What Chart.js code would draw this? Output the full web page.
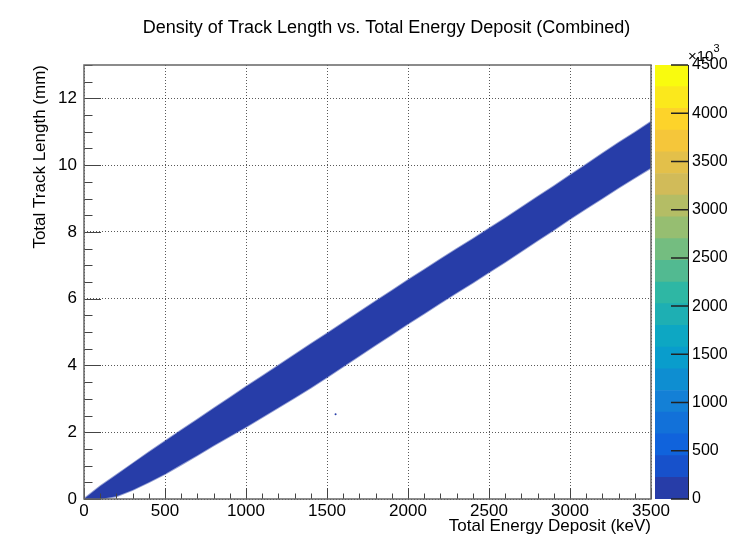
<!DOCTYPE html>
<html><head><meta charset="utf-8">
<script src="https://cdn.jsdelivr.net/npm/chart.js@4/dist/chart.umd.min.js"></script>
<style>
html,body{margin:0;padding:0;background:#fff;}
#wrap{position:relative;width:753px;height:550px;background:#fff;}
canvas{position:absolute;left:0;top:0;}
</style></head><body>
<div id="wrap"><canvas id="main" width="753" height="550"></canvas><canvas id="cbar" width="753" height="550"></canvas></div>
<script>
// ---- data ----
const chartTitle = 'Density of Track Length vs. Total Energy Deposit (Combined)';
const xTitle = 'Total Energy Deposit (keV)';
const yTitle = 'Total Track Length (mm)';
const energyKeV = [0,100,200,300,400,500,600,700,800,900,1000,1100,1200,1300,1400,1500,1600,1700,1800,1900,2000,2100,2200,2300,2400,2500,2600,2700,2800,2900,3000,3100,3200,3300,3400,3500];
const lowerEdge = [0,0,0.08,0.27,0.50,0.75,1.03,1.31,1.60,1.88,2.16,2.45,2.74,3.03,3.33,3.65,3.97,4.29,4.61,4.93,5.25,5.56,5.87,6.18,6.48,6.79,7.10,7.42,7.74,8.06,8.39,8.70,9.01,9.32,9.62,9.92];
const upperEdge = [0,0.38,0.72,1.06,1.40,1.73,2.06,2.38,2.71,3.03,3.36,3.68,4.00,4.32,4.64,4.96,5.28,5.60,5.92,6.24,6.56,6.87,7.18,7.49,7.79,8.10,8.41,8.73,9.05,9.37,9.70,10.02,10.35,10.67,10.98,11.30];
const strayPoints = [{x:1553, y:2.54}];
const xTicks = [0,500,1000,1500,2000,2500,3000,3500];
const yTicks = [0,2,4,6,8,10,12];
const zTicks = [0,500,1000,1500,2000,2500,3000,3500,4000,4500];
const zLevelEdges = [0,225,450,675,900,1125,1350,1575,1800,2025,2250,2475,2700,2925,3150,3375,3600,3825,4050,4275,4500];
const zExponentLabel = ['\u00d710','3'];

// ---- ROOT kBird palette ----
const birdStops=[0,0.125,0.25,0.375,0.5,0.625,0.75,0.875,1];
const birdR=[0.2082,0.0592,0.0780,0.0232,0.1802,0.5301,0.8186,0.9956,0.9764];
const birdG=[0.1664,0.3599,0.5041,0.6419,0.7178,0.7492,0.7328,0.7862,0.9832];
const birdB=[0.5293,0.8684,0.8385,0.7914,0.6425,0.4662,0.3499,0.1968,0.0539];
function bird(t,a){
  let i=0; while(i<birdStops.length-2 && t>birdStops[i+1]) i++;
  const f=(t-birdStops[i])/(birdStops[i+1]-birdStops[i]);
  const c=arr=>Math.round(255*(arr[i]+(arr[i+1]-arr[i])*f));
  return a===undefined?`rgb(${c(birdR)},${c(birdG)},${c(birdB)})`:`rgba(${c(birdR)},${c(birdG)},${c(birdB)},${a})`;
}
const nLev = zLevelEdges.length-1;
const levelT = i => Math.floor((i+0.99)*255/nLev)/254;
const levelColor = (i,a) => bird(levelT(i),a);
const bandColor = levelColor(0);
const edgeColor = levelColor(0,0.5);

const FONT = '"Liberation Sans", Arial, Helvetica, sans-serif';
Chart.defaults.font.family = FONT;
Chart.defaults.color = '#000';

const rootFrame = {
  id:'rootFrame',
  afterDraw(chart){
    const {ctx, chartArea:a, scales:{x,y}} = chart;
    ctx.save();
    ctx.strokeStyle='#444'; ctx.lineWidth=1;
    ctx.beginPath();
    for(let v=0; v<=3500; v+=100){
      const px=Math.round(x.getPixelForValue(v))+0.5;
      const len = (v%500===0)?11:5.5;
      ctx.moveTo(px,a.bottom); ctx.lineTo(px,a.bottom-len);
    }
    for(let v=0; v<=13.001; v+=0.5){
      const py=Math.round(y.getPixelForValue(v))+0.5;
      const len = (Math.abs(v%2)<1e-6)?17:8.5;
      ctx.moveTo(a.left,py); ctx.lineTo(a.left+len,py);
    }
    ctx.stroke();
    ctx.strokeStyle='#666'; ctx.lineWidth=1.5;
    ctx.strokeRect(a.left,a.top,a.right-a.left,a.bottom-a.top);
    ctx.fillStyle='#000';
    ctx.font='18px '+FONT; ctx.textAlign='center'; ctx.textBaseline='middle';
    ctx.fillText(chartTitle, 386.5, 28);
    ctx.restore();
  }
};

new Chart(document.getElementById('main'),{
  type:'line',
  data:{datasets:[
    {label:'lower', data:energyKeV.map((e,i)=>({x:e,y:lowerEdge[i]})), borderColor:edgeColor, borderWidth:1.8, pointRadius:0, fill:false, tension:0},
    {label:'upper', data:energyKeV.map((e,i)=>({x:e,y:upperEdge[i]})), borderColor:edgeColor, borderWidth:1.8, pointRadius:0, fill:'-1', backgroundColor:bandColor, tension:0},
    {type:'scatter', label:'stray', data:strayPoints, pointRadius:1, backgroundColor:bandColor, borderWidth:0}
  ]},
  options:{
    responsive:false, animation:false, devicePixelRatio:1,
    layout:{padding:{left:0, top:65, right:102, bottom:0}},
    plugins:{legend:{display:false}, tooltip:{enabled:false}, title:{display:false}},
    scales:{
      x:{type:'linear', min:0, max:3500, position:'bottom', z:1,
        afterBuildTicks:s=>{s.ticks=xTicks.map(v=>({value:v}));},
        afterFit:s=>{s.height=51;},
        grid:{color:'rgba(0,0,0,0.65)', lineWidth:1, drawTicks:false},
        border:{display:false, dash:[1,2]},
        ticks:{font:{size:17}, padding:2, maxRotation:0, autoSkip:false, color:'#000', callback:v=>String(v)},
        title:{display:true, text:xTitle, align:'end', font:{size:17}, padding:{top:0,bottom:13}, color:'#000'}
      },
      y:{type:'linear', min:0, max:13, position:'left', z:1,
        afterBuildTicks:s=>{s.ticks=yTicks.map(v=>({value:v}));},
        afterFit:s=>{s.width=84;},
        grid:{color:'rgba(0,0,0,0.65)', lineWidth:1, drawTicks:false},
        border:{display:false, dash:[1,2]},
        ticks:{font:{size:17}, padding:7, autoSkip:false, color:'#000', callback:v=>String(v)},
        title:{display:true, text:yTitle, align:'end', font:{size:17, lineHeight:1.2}, padding:{top:30,bottom:0}, color:'#000'}
      }
    }
  },
  plugins:[rootFrame]
});

const cbarDeco = {
  id:'cbarDeco',
  afterDraw(chart){
    const {ctx, chartArea:a, scales:{y}} = chart;
    ctx.save();
    ctx.strokeStyle='#222'; ctx.lineWidth=1.5;
    ctx.beginPath();
    zTicks.forEach(v=>{
      const py=y.getPixelForValue(v);
      ctx.moveTo(a.right-17,py); ctx.lineTo(a.right,py);
    });
    ctx.stroke();
    ctx.fillStyle='#000'; ctx.textAlign='left'; ctx.textBaseline='alphabetic';
    ctx.font='15px '+FONT;
    ctx.fillText(zExponentLabel[0], a.right, 61);
    const w=ctx.measureText(zExponentLabel[0]).width;
    ctx.font='11px '+FONT;
    ctx.fillText(zExponentLabel[1], a.right+w, 52);
    ctx.restore();
  }
};

new Chart(document.getElementById('cbar'),{
  type:'bar',
  data:{labels:['z'], datasets: zLevelEdges.slice(0,-1).map((lo,i)=>({
    data:[zLevelEdges[i+1]-lo], backgroundColor:levelColor(i), borderWidth:0,
    categoryPercentage:1, barPercentage:1, stack:'s'}))},
  options:{
    responsive:false, animation:false, devicePixelRatio:1,
    layout:{padding:{left:655, top:65, right:0, bottom:51}},
    plugins:{legend:{display:false}, tooltip:{enabled:false}, title:{display:false}},
    scales:{
      x:{display:false, stacked:true},
      y:{position:'right', min:0, max:4500, stacked:true,
        afterBuildTicks:s=>{s.ticks=zTicks.map(v=>({value:v}));},
        afterFit:s=>{s.width=65;},
        grid:{display:false, drawTicks:false},
        border:{display:true, color:'#222', width:1},
        ticks:{font:{size:16}, padding:4, autoSkip:false, color:'#000', callback:v=>String(v)}
      }
    }
  },
  plugins:[cbarDeco]
});
</script>
</body></html>
